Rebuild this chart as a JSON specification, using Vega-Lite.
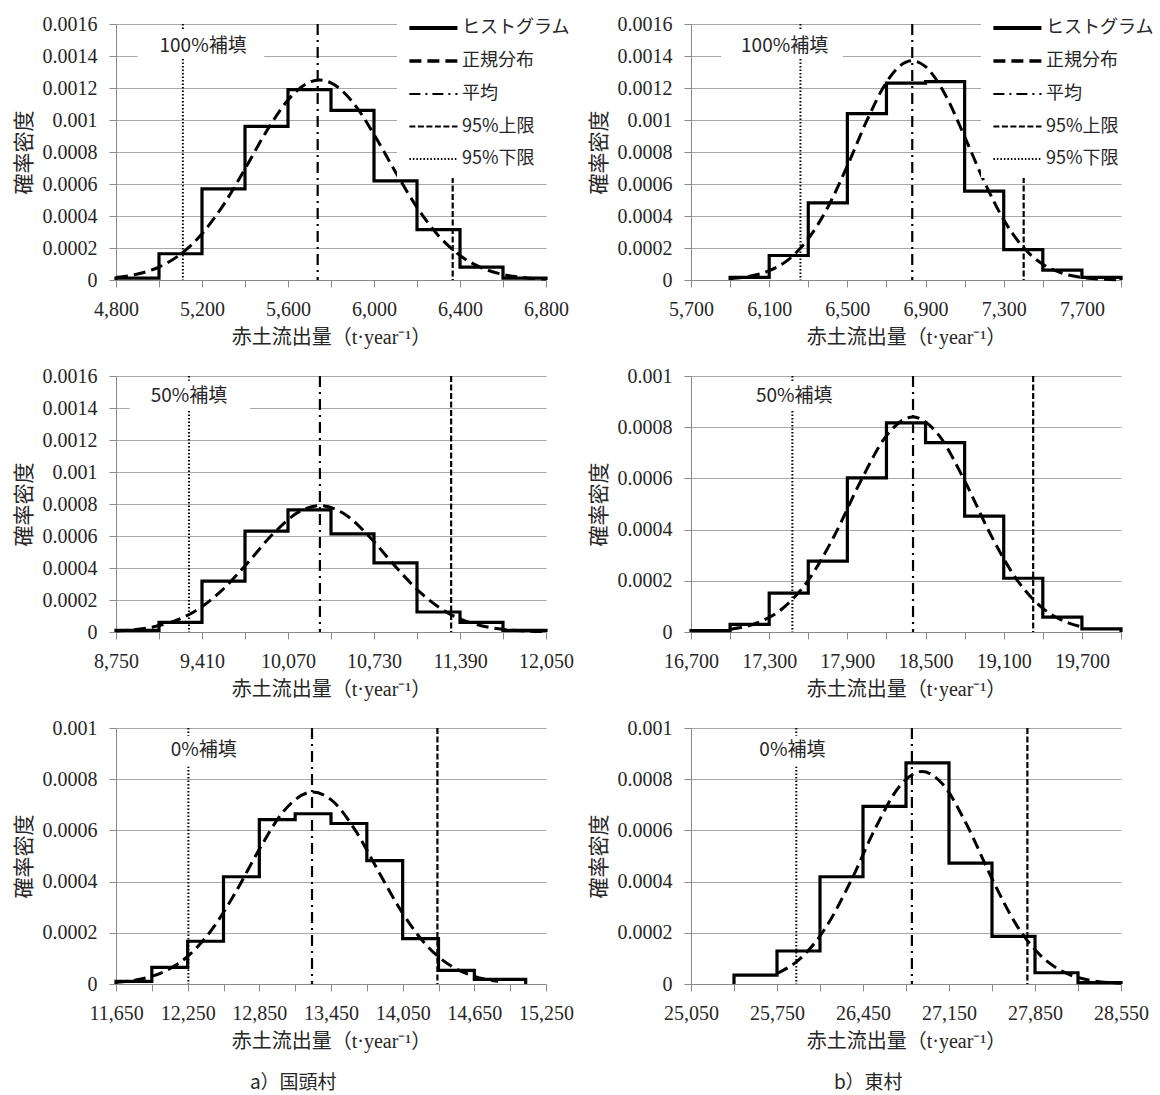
{
"$schema": "https://vega.github.io/schema/vega-lite/v6.json",
"background": "white",
"padding": {"left": 13, "top": 6, "right": 5, "bottom": 5},
"datasets": {
"hist": [
{"p":"TL","x":4800,"y":0},{"p":"TL","x":4800,"y":0.000012},{"p":"TL","x":5000,"y":0.000164},{"p":"TL","x":5200,"y":0.00057},{"p":"TL","x":5400,"y":0.00096},{"p":"TL","x":5600,"y":0.00119},{"p":"TL","x":5800,"y":0.00106},{"p":"TL","x":6000,"y":0.00062},{"p":"TL","x":6200,"y":0.000315},{"p":"TL","x":6400,"y":0.00008},{"p":"TL","x":6600,"y":0.000012},{"p":"TL","x":6800,"y":0},
{"p":"TR","x":5900,"y":0},{"p":"TR","x":5900,"y":0.000017},{"p":"TR","x":6100,"y":0.000153},{"p":"TR","x":6300,"y":0.000482},{"p":"TR","x":6500,"y":0.00104},{"p":"TR","x":6700,"y":0.00123},{"p":"TR","x":6900,"y":0.00124},{"p":"TR","x":7100,"y":0.000555},{"p":"TR","x":7300,"y":0.00019},{"p":"TR","x":7500,"y":0.000062},{"p":"TR","x":7700,"y":0.000017},{"p":"TR","x":7900,"y":0},
{"p":"ML","x":8750,"y":0},{"p":"ML","x":8750,"y":0.00001},{"p":"ML","x":9080,"y":0.00006},{"p":"ML","x":9410,"y":0.000318},{"p":"ML","x":9740,"y":0.00063},{"p":"ML","x":10070,"y":0.000763},{"p":"ML","x":10400,"y":0.000613},{"p":"ML","x":10730,"y":0.000432},{"p":"ML","x":11060,"y":0.000125},{"p":"ML","x":11390,"y":0.00006},{"p":"ML","x":11720,"y":0.00001},{"p":"ML","x":12050,"y":0},
{"p":"MR","x":16700,"y":0},{"p":"MR","x":16700,"y":0.000005},{"p":"MR","x":17000,"y":0.00003},{"p":"MR","x":17300,"y":0.000152},{"p":"MR","x":17600,"y":0.000277},{"p":"MR","x":17900,"y":0.000602},{"p":"MR","x":18200,"y":0.000817},{"p":"MR","x":18500,"y":0.00074},{"p":"MR","x":18800,"y":0.000453},{"p":"MR","x":19100,"y":0.00021},{"p":"MR","x":19400,"y":0.000058},{"p":"MR","x":19700,"y":0.000012},{"p":"MR","x":20000,"y":0},
{"p":"BL","x":11650,"y":0},{"p":"BL","x":11650,"y":0.00001},{"p":"BL","x":11950,"y":0.000065},{"p":"BL","x":12250,"y":0.000167},{"p":"BL","x":12550,"y":0.000419},{"p":"BL","x":12850,"y":0.000642},{"p":"BL","x":13150,"y":0.000665},{"p":"BL","x":13450,"y":0.000627},{"p":"BL","x":13750,"y":0.000482},{"p":"BL","x":14050,"y":0.000177},{"p":"BL","x":14350,"y":0.000053},{"p":"BL","x":14650,"y":0.000018},{"p":"BL","x":15080,"y":0},
{"p":"BR","x":25400,"y":0},{"p":"BR","x":25400,"y":0.000035},{"p":"BR","x":25750,"y":0.000129},{"p":"BR","x":26100,"y":0.000419},{"p":"BR","x":26450,"y":0.000694},{"p":"BR","x":26800,"y":0.000864},{"p":"BR","x":27150,"y":0.000472},{"p":"BR","x":27500,"y":0.000186},{"p":"BR","x":27850,"y":0.000044},{"p":"BR","x":28200,"y":0.000005},{"p":"BR","x":28550,"y":0}
],
"norm": [
{"p":"TL","x":4800,"y":0.0000154},{"p":"TL","x":4900,"y":0.0000371},{"p":"TL","x":5000,"y":0.0000811},{"p":"TL","x":5100,"y":0.000161},{"p":"TL","x":5200,"y":0.000289},{"p":"TL","x":5300,"y":0.00047},{"p":"TL","x":5400,"y":0.000694},{"p":"TL","x":5500,"y":0.000929},{"p":"TL","x":5600,"y":0.001125},{"p":"TL","x":5700,"y":0.001237},{"p":"TL","x":5746,"y":0.00125},{"p":"TL","x":5800,"y":0.001232},{"p":"TL","x":5900,"y":0.001113},{"p":"TL","x":6000,"y":0.00091},{"p":"TL","x":6100,"y":0.000675},{"p":"TL","x":6200,"y":0.000454},{"p":"TL","x":6300,"y":0.000277},{"p":"TL","x":6400,"y":0.000153},{"p":"TL","x":6500,"y":0.0000765},{"p":"TL","x":6600,"y":0.0000348},{"p":"TL","x":6700,"y":0.0000143},{"p":"TL","x":6800,"y":0.0000053},
{"p":"TR","x":5900,"y":0.0000081},{"p":"TR","x":6000,"y":0.000023},{"p":"TR","x":6100,"y":0.000058},{"p":"TR","x":6200,"y":0.000129},{"p":"TR","x":6300,"y":0.000258},{"p":"TR","x":6400,"y":0.000455},{"p":"TR","x":6500,"y":0.000714},{"p":"TR","x":6600,"y":0.000997},{"p":"TR","x":6700,"y":0.001236},{"p":"TR","x":6800,"y":0.001362},{"p":"TR","x":6832,"y":0.00137},{"p":"TR","x":6900,"y":0.001333},{"p":"TR","x":7000,"y":0.00116},{"p":"TR","x":7100,"y":0.000896},{"p":"TR","x":7200,"y":0.000616},{"p":"TR","x":7300,"y":0.000376},{"p":"TR","x":7400,"y":0.000204},{"p":"TR","x":7500,"y":0.0000983},{"p":"TR","x":7600,"y":0.000042},{"p":"TR","x":7700,"y":0.000016},{"p":"TR","x":7800,"y":0.0000054},{"p":"TR","x":7900,"y":0.0000016},
{"p":"ML","x":8750,"y":0.0000065},{"p":"ML","x":8950,"y":0.0000205},{"p":"ML","x":9150,"y":0.0000552},{"p":"ML","x":9350,"y":0.000127},{"p":"ML","x":9550,"y":0.000251},{"p":"ML","x":9750,"y":0.000422},{"p":"ML","x":9950,"y":0.000609},{"p":"ML","x":10150,"y":0.000749},{"p":"ML","x":10315,"y":0.00079},{"p":"ML","x":10500,"y":0.000739},{"p":"ML","x":10700,"y":0.000591},{"p":"ML","x":10900,"y":0.000404},{"p":"ML","x":11100,"y":0.000236},{"p":"ML","x":11300,"y":0.000118},{"p":"ML","x":11500,"y":0.0000503},{"p":"ML","x":11700,"y":0.0000184},{"p":"ML","x":11900,"y":0.0000057},{"p":"ML","x":12050,"y":0.0000022},
{"p":"MR","x":17000,"y":0.0000108},{"p":"MR","x":17200,"y":0.0000342},{"p":"MR","x":17400,"y":0.0000908},{"p":"MR","x":17600,"y":0.000202},{"p":"MR","x":17800,"y":0.000376},{"p":"MR","x":18000,"y":0.000587},{"p":"MR","x":18200,"y":0.000767},{"p":"MR","x":18402,"y":0.00084},{"p":"MR","x":18600,"y":0.00077},{"p":"MR","x":18800,"y":0.000591},{"p":"MR","x":19000,"y":0.00038},{"p":"MR","x":19200,"y":0.000205},{"p":"MR","x":19400,"y":0.0000924},{"p":"MR","x":19600,"y":0.0000349},{"p":"MR","x":19700,"y":0.0000201},
{"p":"BL","x":11650,"y":0.0000062},{"p":"BL","x":11850,"y":0.0000185},{"p":"BL","x":12050,"y":0.0000479},{"p":"BL","x":12250,"y":0.000108},{"p":"BL","x":12450,"y":0.000211},{"p":"BL","x":12650,"y":0.000357},{"p":"BL","x":12850,"y":0.000526},{"p":"BL","x":13050,"y":0.000673},{"p":"BL","x":13298,"y":0.00075},{"p":"BL","x":13450,"y":0.00072},{"p":"BL","x":13650,"y":0.000603},{"p":"BL","x":13850,"y":0.000438},{"p":"BL","x":14050,"y":0.000276},{"p":"BL","x":14250,"y":0.000151},{"p":"BL","x":14450,"y":0.0000719},{"p":"BL","x":14650,"y":0.0000297},{"p":"BL","x":14850,"y":0.0000107},
{"p":"BR","x":25750,"y":0.0000409},{"p":"BR","x":25950,"y":0.000104},{"p":"BR","x":26150,"y":0.000223},{"p":"BR","x":26350,"y":0.000401},{"p":"BR","x":26550,"y":0.000608},{"p":"BR","x":26750,"y":0.000774},{"p":"BR","x":26930,"y":0.00083},{"p":"BR","x":27100,"y":0.00078},{"p":"BR","x":27300,"y":0.000617},{"p":"BR","x":27500,"y":0.000411},{"p":"BR","x":27700,"y":0.00023},{"p":"BR","x":27900,"y":0.000109},{"p":"BR","x":28100,"y":0.0000431},{"p":"BR","x":28300,"y":0.0000144},{"p":"BR","x":28550,"y":0.0000029}
],
"lines": [
{"p":"TL","s":"平均","x":5738},{"p":"TL","s":"95%上限","x":6366},{"p":"TL","s":"95%下限","x":5111},
{"p":"TR","s":"平均","x":6832},{"p":"TR","s":"95%上限","x":7402},{"p":"TR","s":"95%下限","x":6260},
{"p":"ML","s":"平均","x":10315},{"p":"ML","s":"95%上限","x":11322},{"p":"ML","s":"95%下限","x":9310},
{"p":"MR","s":"平均","x":18404},{"p":"MR","s":"95%上限","x":19326},{"p":"MR","s":"95%下限","x":17478},
{"p":"BL","s":"平均","x":13291},{"p":"BL","s":"95%上限","x":14341},{"p":"BL","s":"95%下限","x":12256},
{"p":"BR","s":"平均","x":26848},{"p":"BR","s":"95%上限","x":27788},{"p":"BR","s":"95%下限","x":25907}
],
"ann": [
{"p":"TL","t":"100%補填","x":5205,"y":0.00146,"x1":4900,"x2":5490,"y1":0.00139,"y2":0.00156},
{"p":"TR","t":"100%補填","x":6179,"y":0.00146,"x1":5855,"x2":6477,"y1":0.00139,"y2":0.00156},
{"p":"ML","t":"50%補填","x":9310,"y":0.001475,"x1":8855,"x2":9780,"y1":0.00139,"y2":0.00157},
{"p":"MR","t":"50%補填","x":17492,"y":0.000922,"x1":17150,"x2":17850,"y1":0.00087,"y2":0.00098},
{"p":"BL","t":"0%補填","x":12385,"y":0.000913,"x1":12080,"x2":12700,"y1":0.00085,"y2":0.00097},
{"p":"BR","t":"0%補填","x":25875,"y":0.000913,"x1":25580,"x2":26170,"y1":0.00085,"y2":0.00097}
]
},
"columns": 2,
"spacing": {"row": 96, "column": 145},
"bounds": "flush",
"concat": [
{"width": 430, "height": 256, "layer": [
 {"data": {"name": "hist"}, "transform": [{"filter": "datum.p == 'TL'"}], "mark": {"type": "line", "interpolate": "step-after", "color": "black", "strokeWidth": 3.2},
  "encoding": {
   "x": {"field": "x", "type": "quantitative", "scale": {"domain": [4800, 6800], "nice": false, "zero": false}, "axis": {"title": "赤土流出量（t·year⁻¹）", "values": [4800,5000,5200,5400,5600,5800,6000,6200,6400,6600,6800], "tickCount": 100, "format": ",d", "labelOverlap": false, "labelExpr": "(datum.value - 4800) % 400 == 0 ? datum.label : ''"}},
   "y": {"field": "y", "type": "quantitative", "scale": {"domain": [0, 0.0016], "nice": false}, "axis": {"title": "確率密度", "values": [0,0.0002,0.0004,0.0006,0.0008,0.001,0.0012,0.0014,0.0016], "tickCount": 100, "format": "~g", "labelOverlap": false}},
   "order": {"value": null}
  }},
 {"data": {"name": "norm"}, "transform": [{"filter": "datum.p == 'TL'"}], "mark": {"type": "line", "interpolate": "monotone", "color": "black", "strokeWidth": 3, "strokeDash": [12, 6]},
  "encoding": {"x": {"field": "x", "type": "quantitative"}, "y": {"field": "y", "type": "quantitative"}}},
 {"data": {"name": "lines"}, "transform": [{"filter": "datum.p == 'TL'"}], "mark": {"type": "rule", "color": "black"},
  "encoding": {"x": {"field": "x", "type": "quantitative"},
   "strokeDash": {"field": "s", "type": "nominal", "scale": {"domain": ["ヒストグラム","正規分布","平均","95%上限","95%下限"], "range": [[1,0],[12,6],[11,5,2,5],[6,2.5],[1.5,2]]}, "legend": {"orient": "none", "legendX": 281, "legendY": -18, "title": null, "symbolType": "M-1,0H4", "symbolSize": 370, "symbolStrokeColor": "black", "labelFont": "Noto Sans CJK JP", "labelFontSize": 18, "labelColor": "#262626", "labelOffset": 31, "rowPadding": 12.5, "padding": 10, "fillColor": "white"}},
   "strokeWidth": {"field": "s", "type": "nominal", "scale": {"type": "ordinal", "domain": ["ヒストグラム","正規分布","平均","95%上限","95%下限"], "range": [4, 3.5, 2.2, 2.2, 2]}, "legend": {"orient": "none", "legendX": 281, "legendY": -18, "title": null, "symbolType": "M-1,0H4", "symbolSize": 370, "symbolStrokeColor": "black", "labelFont": "Noto Sans CJK JP", "labelFontSize": 18, "labelColor": "#262626", "labelOffset": 31, "rowPadding": 12.5, "padding": 10, "fillColor": "white"}}}},
 {"data": {"name": "ann"}, "transform": [{"filter": "datum.p == 'TL'"}], "mark": {"type": "rect", "color": "white"},
  "encoding": {"x": {"field": "x1", "type": "quantitative"}, "x2": {"field": "x2"}, "y": {"field": "y1", "type": "quantitative"}, "y2": {"field": "y2"}}},
 {"data": {"name": "ann"}, "transform": [{"filter": "datum.p == 'TL'"}], "mark": {"type": "text", "font": "Noto Sans CJK JP", "fontSize": 19, "color": "#262626"},
  "encoding": {"x": {"field": "x", "type": "quantitative"}, "y": {"field": "y", "type": "quantitative"}, "text": {"field": "t"}}}
]},
{"width": 430, "height": 256, "layer": [
 {"data": {"name": "hist"}, "transform": [{"filter": "datum.p == 'TR'"}], "mark": {"type": "line", "interpolate": "step-after", "color": "black", "strokeWidth": 3.2},
  "encoding": {
   "x": {"field": "x", "type": "quantitative", "scale": {"domain": [5700, 7900], "nice": false, "zero": false}, "axis": {"title": "赤土流出量（t·year⁻¹）", "values": [5700,5900,6100,6300,6500,6700,6900,7100,7300,7500,7700,7900], "tickCount": 100, "format": ",d", "labelOverlap": false, "labelExpr": "(datum.value - 5700) % 400 == 0 ? datum.label : ''"}},
   "y": {"field": "y", "type": "quantitative", "scale": {"domain": [0, 0.0016], "nice": false}, "axis": {"title": "確率密度", "values": [0,0.0002,0.0004,0.0006,0.0008,0.001,0.0012,0.0014,0.0016], "tickCount": 100, "format": "~g", "labelOverlap": false}},
   "order": {"value": null}
  }},
 {"data": {"name": "norm"}, "transform": [{"filter": "datum.p == 'TR'"}], "mark": {"type": "line", "interpolate": "monotone", "color": "black", "strokeWidth": 3, "strokeDash": [12, 6]},
  "encoding": {"x": {"field": "x", "type": "quantitative"}, "y": {"field": "y", "type": "quantitative"}}},
 {"data": {"name": "lines"}, "transform": [{"filter": "datum.p == 'TR'"}], "mark": {"type": "rule", "color": "black"},
  "encoding": {"x": {"field": "x", "type": "quantitative"},
   "strokeDash": {"field": "s", "type": "nominal", "scale": {"domain": ["ヒストグラム","正規分布","平均","95%上限","95%下限"], "range": [[1,0],[12,6],[11,5,2,5],[6,2.5],[1.5,2]]}, "legend": {"orient": "none", "legendX": 290, "legendY": -18, "title": null, "symbolType": "M-1,0H4", "symbolSize": 370, "symbolStrokeColor": "black", "labelFont": "Noto Sans CJK JP", "labelFontSize": 18, "labelColor": "#262626", "labelOffset": 31, "rowPadding": 12.5, "padding": 10, "fillColor": "white"}},
   "strokeWidth": {"field": "s", "type": "nominal", "scale": {"type": "ordinal", "domain": ["ヒストグラム","正規分布","平均","95%上限","95%下限"], "range": [4, 3.5, 2.2, 2.2, 2]}, "legend": {"orient": "none", "legendX": 290, "legendY": -18, "title": null, "symbolType": "M-1,0H4", "symbolSize": 370, "symbolStrokeColor": "black", "labelFont": "Noto Sans CJK JP", "labelFontSize": 18, "labelColor": "#262626", "labelOffset": 31, "rowPadding": 12.5, "padding": 10, "fillColor": "white"}}}},
 {"data": {"name": "ann"}, "transform": [{"filter": "datum.p == 'TR'"}], "mark": {"type": "rect", "color": "white"},
  "encoding": {"x": {"field": "x1", "type": "quantitative"}, "x2": {"field": "x2"}, "y": {"field": "y1", "type": "quantitative"}, "y2": {"field": "y2"}}},
 {"data": {"name": "ann"}, "transform": [{"filter": "datum.p == 'TR'"}], "mark": {"type": "text", "font": "Noto Sans CJK JP", "fontSize": 19, "color": "#262626"},
  "encoding": {"x": {"field": "x", "type": "quantitative"}, "y": {"field": "y", "type": "quantitative"}, "text": {"field": "t"}}}
]},
{"width": 430, "height": 256, "layer": [
 {"data": {"name": "hist"}, "transform": [{"filter": "datum.p == 'ML'"}], "mark": {"type": "line", "interpolate": "step-after", "color": "black", "strokeWidth": 3.2},
  "encoding": {
   "x": {"field": "x", "type": "quantitative", "scale": {"domain": [8750, 12050], "nice": false, "zero": false}, "axis": {"title": "赤土流出量（t·year⁻¹）", "values": [8750,9080,9410,9740,10070,10400,10730,11060,11390,11720,12050], "tickCount": 100, "format": ",d", "labelOverlap": false, "labelExpr": "(datum.value - 8750) % 660 == 0 ? datum.label : ''"}},
   "y": {"field": "y", "type": "quantitative", "scale": {"domain": [0, 0.0016], "nice": false}, "axis": {"title": "確率密度", "values": [0,0.0002,0.0004,0.0006,0.0008,0.001,0.0012,0.0014,0.0016], "tickCount": 100, "format": "~g", "labelOverlap": false}},
   "order": {"value": null}
  }},
 {"data": {"name": "norm"}, "transform": [{"filter": "datum.p == 'ML'"}], "mark": {"type": "line", "interpolate": "monotone", "color": "black", "strokeWidth": 3, "strokeDash": [12, 6]},
  "encoding": {"x": {"field": "x", "type": "quantitative"}, "y": {"field": "y", "type": "quantitative"}}},
 {"data": {"name": "lines"}, "transform": [{"filter": "datum.p == 'ML'"}], "mark": {"type": "rule", "color": "black"},
  "encoding": {"x": {"field": "x", "type": "quantitative"},
   "strokeDash": {"field": "s", "type": "nominal", "scale": {"domain": ["ヒストグラム","正規分布","平均","95%上限","95%下限"], "range": [[1,0],[12,6],[11,5,2,5],[6,2.5],[1.5,2]]}, "legend": null},
   "strokeWidth": {"field": "s", "type": "nominal", "scale": {"type": "ordinal", "domain": ["ヒストグラム","正規分布","平均","95%上限","95%下限"], "range": [4, 3.5, 2.2, 2.2, 2]}, "legend": null}}},
 {"data": {"name": "ann"}, "transform": [{"filter": "datum.p == 'ML'"}], "mark": {"type": "rect", "color": "white"},
  "encoding": {"x": {"field": "x1", "type": "quantitative"}, "x2": {"field": "x2"}, "y": {"field": "y1", "type": "quantitative"}, "y2": {"field": "y2"}}},
 {"data": {"name": "ann"}, "transform": [{"filter": "datum.p == 'ML'"}], "mark": {"type": "text", "font": "Noto Sans CJK JP", "fontSize": 19, "color": "#262626"},
  "encoding": {"x": {"field": "x", "type": "quantitative"}, "y": {"field": "y", "type": "quantitative"}, "text": {"field": "t"}}}
]},
{"width": 430, "height": 256, "layer": [
 {"data": {"name": "hist"}, "transform": [{"filter": "datum.p == 'MR'"}], "mark": {"type": "line", "interpolate": "step-after", "color": "black", "strokeWidth": 3.2},
  "encoding": {
   "x": {"field": "x", "type": "quantitative", "scale": {"domain": [16700, 20000], "nice": false, "zero": false}, "axis": {"title": "赤土流出量（t·year⁻¹）", "values": [16700,17000,17300,17600,17900,18200,18500,18800,19100,19400,19700,20000], "tickCount": 100, "format": ",d", "labelOverlap": false, "labelExpr": "(datum.value - 16700) % 600 == 0 ? datum.label : ''"}},
   "y": {"field": "y", "type": "quantitative", "scale": {"domain": [0, 0.001], "nice": false}, "axis": {"title": "確率密度", "values": [0,0.0002,0.0004,0.0006,0.0008,0.001], "tickCount": 100, "format": "~g", "labelOverlap": false}},
   "order": {"value": null}
  }},
 {"data": {"name": "norm"}, "transform": [{"filter": "datum.p == 'MR'"}], "mark": {"type": "line", "interpolate": "monotone", "color": "black", "strokeWidth": 3, "strokeDash": [12, 6]},
  "encoding": {"x": {"field": "x", "type": "quantitative"}, "y": {"field": "y", "type": "quantitative"}}},
 {"data": {"name": "lines"}, "transform": [{"filter": "datum.p == 'MR'"}], "mark": {"type": "rule", "color": "black"},
  "encoding": {"x": {"field": "x", "type": "quantitative"},
   "strokeDash": {"field": "s", "type": "nominal", "scale": {"domain": ["ヒストグラム","正規分布","平均","95%上限","95%下限"], "range": [[1,0],[12,6],[11,5,2,5],[6,2.5],[1.5,2]]}, "legend": null},
   "strokeWidth": {"field": "s", "type": "nominal", "scale": {"type": "ordinal", "domain": ["ヒストグラム","正規分布","平均","95%上限","95%下限"], "range": [4, 3.5, 2.2, 2.2, 2]}, "legend": null}}},
 {"data": {"name": "ann"}, "transform": [{"filter": "datum.p == 'MR'"}], "mark": {"type": "rect", "color": "white"},
  "encoding": {"x": {"field": "x1", "type": "quantitative"}, "x2": {"field": "x2"}, "y": {"field": "y1", "type": "quantitative"}, "y2": {"field": "y2"}}},
 {"data": {"name": "ann"}, "transform": [{"filter": "datum.p == 'MR'"}], "mark": {"type": "text", "font": "Noto Sans CJK JP", "fontSize": 19, "color": "#262626"},
  "encoding": {"x": {"field": "x", "type": "quantitative"}, "y": {"field": "y", "type": "quantitative"}, "text": {"field": "t"}}}
]},
{"width": 430, "height": 256,
 "title": {"text": "a）国頭村", "orient": "bottom", "anchor": "middle", "frame": "bounds", "font": "Noto Sans CJK JP", "fontSize": 19, "fontWeight": "normal", "color": "#262626", "offset": 23},
 "layer": [
 {"data": {"name": "hist"}, "transform": [{"filter": "datum.p == 'BL'"}], "mark": {"type": "line", "interpolate": "step-after", "color": "black", "strokeWidth": 3.2},
  "encoding": {
   "x": {"field": "x", "type": "quantitative", "scale": {"domain": [11650, 15250], "nice": false, "zero": false}, "axis": {"title": "赤土流出量（t·year⁻¹）", "values": [11650,11950,12250,12550,12850,13150,13450,13750,14050,14350,14650,14950,15250], "tickCount": 100, "format": ",d", "labelOverlap": false, "labelExpr": "(datum.value - 11650) % 600 == 0 ? datum.label : ''"}},
   "y": {"field": "y", "type": "quantitative", "scale": {"domain": [0, 0.001], "nice": false}, "axis": {"title": "確率密度", "values": [0,0.0002,0.0004,0.0006,0.0008,0.001], "tickCount": 100, "format": "~g", "labelOverlap": false}},
   "order": {"value": null}
  }},
 {"data": {"name": "norm"}, "transform": [{"filter": "datum.p == 'BL'"}], "mark": {"type": "line", "interpolate": "monotone", "color": "black", "strokeWidth": 3, "strokeDash": [12, 6]},
  "encoding": {"x": {"field": "x", "type": "quantitative"}, "y": {"field": "y", "type": "quantitative"}}},
 {"data": {"name": "lines"}, "transform": [{"filter": "datum.p == 'BL'"}], "mark": {"type": "rule", "color": "black"},
  "encoding": {"x": {"field": "x", "type": "quantitative"},
   "strokeDash": {"field": "s", "type": "nominal", "scale": {"domain": ["ヒストグラム","正規分布","平均","95%上限","95%下限"], "range": [[1,0],[12,6],[11,5,2,5],[6,2.5],[1.5,2]]}, "legend": null},
   "strokeWidth": {"field": "s", "type": "nominal", "scale": {"type": "ordinal", "domain": ["ヒストグラム","正規分布","平均","95%上限","95%下限"], "range": [4, 3.5, 2.2, 2.2, 2]}, "legend": null}}},
 {"data": {"name": "ann"}, "transform": [{"filter": "datum.p == 'BL'"}], "mark": {"type": "rect", "color": "white"},
  "encoding": {"x": {"field": "x1", "type": "quantitative"}, "x2": {"field": "x2"}, "y": {"field": "y1", "type": "quantitative"}, "y2": {"field": "y2"}}},
 {"data": {"name": "ann"}, "transform": [{"filter": "datum.p == 'BL'"}], "mark": {"type": "text", "font": "Noto Sans CJK JP", "fontSize": 19, "color": "#262626"},
  "encoding": {"x": {"field": "x", "type": "quantitative"}, "y": {"field": "y", "type": "quantitative"}, "text": {"field": "t"}}}
]},
{"width": 430, "height": 256,
 "title": {"text": "b）東村", "orient": "bottom", "anchor": "middle", "frame": "bounds", "font": "Noto Sans CJK JP", "fontSize": 19, "fontWeight": "normal", "color": "#262626", "offset": 23},
 "layer": [
 {"data": {"name": "hist"}, "transform": [{"filter": "datum.p == 'BR'"}], "mark": {"type": "line", "interpolate": "step-after", "color": "black", "strokeWidth": 3.2},
  "encoding": {
   "x": {"field": "x", "type": "quantitative", "scale": {"domain": [25050, 28550], "nice": false, "zero": false}, "axis": {"title": "赤土流出量（t·year⁻¹）", "values": [25050,25400,25750,26100,26450,26800,27150,27500,27850,28200,28550], "tickCount": 100, "format": ",d", "labelOverlap": false, "labelExpr": "(datum.value - 25050) % 700 == 0 ? datum.label : ''"}},
   "y": {"field": "y", "type": "quantitative", "scale": {"domain": [0, 0.001], "nice": false}, "axis": {"title": "確率密度", "values": [0,0.0002,0.0004,0.0006,0.0008,0.001], "tickCount": 100, "format": "~g", "labelOverlap": false}},
   "order": {"value": null}
  }},
 {"data": {"name": "norm"}, "transform": [{"filter": "datum.p == 'BR'"}], "mark": {"type": "line", "interpolate": "monotone", "color": "black", "strokeWidth": 3, "strokeDash": [12, 6]},
  "encoding": {"x": {"field": "x", "type": "quantitative"}, "y": {"field": "y", "type": "quantitative"}}},
 {"data": {"name": "lines"}, "transform": [{"filter": "datum.p == 'BR'"}], "mark": {"type": "rule", "color": "black"},
  "encoding": {"x": {"field": "x", "type": "quantitative"},
   "strokeDash": {"field": "s", "type": "nominal", "scale": {"domain": ["ヒストグラム","正規分布","平均","95%上限","95%下限"], "range": [[1,0],[12,6],[11,5,2,5],[6,2.5],[1.5,2]]}, "legend": null},
   "strokeWidth": {"field": "s", "type": "nominal", "scale": {"type": "ordinal", "domain": ["ヒストグラム","正規分布","平均","95%上限","95%下限"], "range": [4, 3.5, 2.2, 2.2, 2]}, "legend": null}}},
 {"data": {"name": "ann"}, "transform": [{"filter": "datum.p == 'BR'"}], "mark": {"type": "rect", "color": "white"},
  "encoding": {"x": {"field": "x1", "type": "quantitative"}, "x2": {"field": "x2"}, "y": {"field": "y1", "type": "quantitative"}, "y2": {"field": "y2"}}},
 {"data": {"name": "ann"}, "transform": [{"filter": "datum.p == 'BR'"}], "mark": {"type": "text", "font": "Noto Sans CJK JP", "fontSize": 19, "color": "#262626"},
  "encoding": {"x": {"field": "x", "type": "quantitative"}, "y": {"field": "y", "type": "quantitative"}, "text": {"field": "t"}}}
]}
],
"resolve": {
 "scale": {"x": "independent", "y": "independent", "strokeDash": "independent", "strokeWidth": "independent"},
 "legend": {"strokeDash": "independent", "strokeWidth": "independent"}
},
"config": {
 "view": {"stroke": null},
 "font": "Noto Sans CJK JP",
 "axis": {"labelFont": "Liberation Serif, Noto Sans CJK JP", "labelFontSize": 20, "labelColor": "#262626", "titleFont": "Liberation Serif, Noto Sans CJK JP", "titleFontSize": 20, "titleFontWeight": "normal", "titleColor": "#262626", "domainColor": "#8a8a8a", "tickColor": "#8a8a8a", "gridColor": "#a8a8a8", "tickSize": 7, "labelPadding": 12, "labelOverlap": false},
 "axisX": {"grid": false, "titlePadding": 8, "labelFlush": false, "labelOverlap": false},
 "axisY": {"grid": true, "titleFont": "Noto Sans CJK JP", "titleFontSize": 21, "titlePadding": 8, "labelOverlap": false}
}
}
